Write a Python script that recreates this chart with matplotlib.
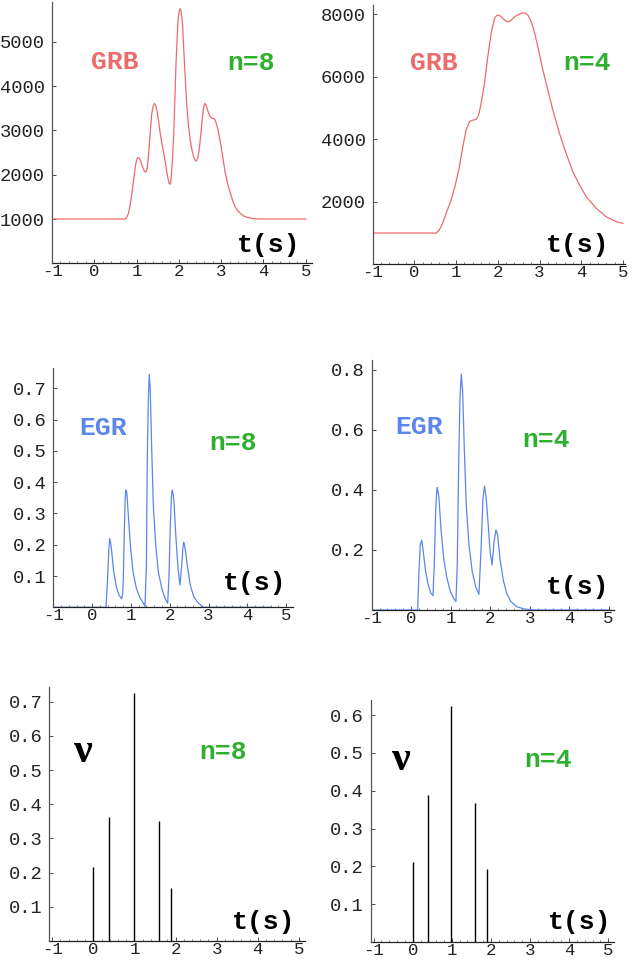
import matplotlib
matplotlib.use('Agg')
import matplotlib.pyplot as plt
from matplotlib.ticker import MultipleLocator

# ---------------- data ----------------
X_TICKS = [-1, 0, 1, 2, 3, 4, 5]
X_TICK_LABELS = ['-1', '0', '1', '2', '3', '4', '5']

# GRB light curve, n=8
grb8_t = [-1, 0.73, 0.77, 0.81, 0.85, 0.89, 0.93, 0.97, 1.00, 1.03, 1.06, 1.09, 1.14, 1.19, 1.22,
          1.25, 1.28, 1.31, 1.34, 1.36, 1.39, 1.42, 1.45, 1.48, 1.52, 1.56, 1.61, 1.66, 1.72, 1.77,
          1.80, 1.82, 1.85, 1.88, 1.91, 1.93, 1.96, 1.98, 2.01, 2.03, 2.05, 2.08, 2.10, 2.13, 2.16,
          2.19, 2.23, 2.27, 2.31, 2.35, 2.38, 2.41, 2.45, 2.48, 2.52, 2.55, 2.58, 2.61, 2.64, 2.68,
          2.72, 2.76, 2.80, 2.84, 2.88, 2.92, 2.96, 3.0, 3.05, 3.1, 3.16, 3.22, 3.28, 3.33, 3.39,
          3.45, 3.53, 3.61, 3.75, 3.92, 5.0]
grb8_v = [1000, 1000, 1040, 1130, 1320, 1580, 1880, 2180, 2330, 2390, 2380, 2330, 2180, 2070, 2060,
          2140, 2400, 2780, 3150, 3380, 3540, 3610, 3580, 3460, 3220, 2930, 2650, 2400, 2030, 1800,
          1790, 1950, 2350, 2930, 3800, 4440, 5080, 5490, 5700, 5750, 5700, 5490, 5150, 4590, 4050,
          3530, 3100, 2780, 2560, 2400, 2330, 2310, 2380, 2560, 2900, 3230, 3480, 3610, 3580, 3460,
          3350, 3290, 3270, 3270, 3180, 3040, 2850, 2630, 2330, 2030, 1780, 1580, 1400, 1280, 1190,
          1130, 1070, 1040, 1010, 1000, 1000]

# GRB light curve, n=4
grb4_t = [-1, 0.52, 0.58, 0.64, 0.70, 0.76, 0.82, 0.88, 0.98, 1.08, 1.16, 1.24, 1.32, 1.40, 1.48,
          1.54, 1.60, 1.68, 1.76, 1.84, 1.92, 1.97, 2.02, 2.07, 2.12, 2.18, 2.24, 2.30, 2.36, 2.42,
          2.48, 2.54, 2.6, 2.66, 2.72, 2.78, 2.84, 2.90, 2.96, 3.08, 3.2, 3.32, 3.48, 3.64, 3.8,
          3.96, 4.12, 4.36, 4.6, 4.84, 5.0]
grb4_v = [1000, 1000, 1070, 1200, 1400, 1630, 1840, 2050, 2530, 3120, 3760, 4290, 4560, 4610, 4630,
          4770, 5140, 5780, 6640, 7380, 7860, 7950, 7970, 7930, 7860, 7790, 7750, 7780, 7860, 7930,
          7970, 8010, 8040, 8030, 7970, 7820, 7600, 7300, 6960, 6210, 5570, 4930, 4180, 3540, 2960,
          2530, 2160, 1790, 1520, 1360, 1310]

# EGR, n=8
egr8_t = [-1, 0.358, 0.40, 0.43, 0.453, 0.48, 0.505, 0.556, 0.624, 0.693, 0.762, 0.79, 0.805, 0.83,
          0.85, 0.866, 0.885, 0.90, 0.933, 0.985, 1.054, 1.14, 1.227, 1.33, 1.363, 1.40, 1.42, 1.45,
          1.474, 1.50, 1.536, 1.577, 1.64, 1.706, 1.794, 1.879, 1.948, 1.98, 2.016, 2.045, 2.067,
          2.09, 2.11, 2.162, 2.214, 2.265, 2.31, 2.34, 2.36, 2.38, 2.41, 2.464, 2.53, 2.62, 2.72,
          2.866, 4.6]
egr8_v = [0, 0, 0.093, 0.185, 0.22, 0.205, 0.178, 0.114, 0.066, 0.039, 0.027, 0.045, 0.093, 0.242,
          0.34, 0.375, 0.372, 0.359, 0.295, 0.199, 0.114, 0.061, 0.032, 0.011, 0.003, 0.135, 0.455,
          0.668, 0.745, 0.69, 0.508, 0.327, 0.199, 0.114, 0.061, 0.029, 0.013, 0.093, 0.263, 0.355,
          0.375, 0.36, 0.338, 0.22, 0.125, 0.071, 0.135, 0.19, 0.208, 0.2, 0.178, 0.125, 0.071,
          0.034, 0.016, 0, 0]

# EGR, n=4
egr4_t = [-1, 0.165, 0.197, 0.23, 0.266, 0.307, 0.367, 0.433, 0.50, 0.552, 0.585, 0.62, 0.645, 0.66,
          0.68, 0.704, 0.754, 0.823, 0.906, 0.99, 1.076, 1.134, 1.167, 1.203, 1.236, 1.27, 1.304,
          1.345, 1.395, 1.464, 1.547, 1.633, 1.716, 1.767, 1.818, 1.86, 1.9, 1.952, 2.0, 2.05, 2.10,
          2.147, 2.19, 2.248, 2.332, 2.418, 2.527, 2.67, 2.88, 3.13, 5.0]
egr4_v = [0, 0, 0.128, 0.217, 0.233, 0.194, 0.128, 0.083, 0.056, 0.048, 0.15, 0.328, 0.39, 0.408,
          0.395, 0.372, 0.272, 0.172, 0.106, 0.063, 0.039, 0.028, 0.15, 0.483, 0.706, 0.786, 0.728,
          0.539, 0.35, 0.217, 0.128, 0.078, 0.052, 0.194, 0.372, 0.413, 0.372, 0.283, 0.194, 0.15,
          0.228, 0.267, 0.25, 0.172, 0.1, 0.056, 0.028, 0.011, 0.003, 0, 0]

# neutrino spikes
nu8_t = [0.0, 0.39, 1.0, 1.6, 1.9]
nu8_h = [0.216, 0.362, 0.727, 0.35, 0.155]
nu4_t = [0.0, 0.39, 0.98, 1.59, 1.89]
nu4_h = [0.212, 0.389, 0.623, 0.367, 0.192]

grb8_yticks = [1000, 2000, 3000, 4000, 5000]
grb4_yticks = [2000, 4000, 6000, 8000]
egr8_yticks = [0.1, 0.2, 0.3, 0.4, 0.5, 0.6, 0.7]
egr4_yticks = [0.2, 0.4, 0.6, 0.8]
nu8_yticks = [0.1, 0.2, 0.3, 0.4, 0.5, 0.6, 0.7]
nu4_yticks = [0.1, 0.2, 0.3, 0.4, 0.5, 0.6]

# ---------------- styling ----------------
W, H = 632, 961
fig = plt.figure(figsize=(W / 100, H / 100), dpi=100)
fig.patch.set_facecolor('white')

RED = '#EC6B6B'
BLUE = '#5B86EE'
GREEN = '#2EAF2E'
MONO = 'Liberation Mono'
TICKFS = 13.5
XTICKFS = 12.5
LABFS = 19


def make_axes(l, r, t, b, xlim, ylim, yticks, yfmt):
    ax = fig.add_axes([l / W, 1 - b / H, (r - l) / W, (b - t) / H])
    ax.set_xlim(*xlim)
    ax.set_ylim(*ylim)
    ax.patch.set_alpha(0)
    for s in ['top', 'right']:
        ax.spines[s].set_visible(False)
    ax.spines['left'].set_color('#555555')
    ax.spines['bottom'].set_color('#222222')
    ax.spines['left'].set_linewidth(0.9)
    ax.spines['bottom'].set_linewidth(0.9)
    ax.spines['left'].set_zorder(4)
    ax.spines['bottom'].set_zorder(2.5)
    ax.set_xticks(X_TICKS)
    ax.set_xticklabels(X_TICK_LABELS)
    ax.xaxis.set_minor_locator(MultipleLocator(0.2))
    ax.set_yticks(yticks)
    ax.set_yticklabels([yfmt.format(v) for v in yticks])
    ax.tick_params(axis='both', which='major', direction='in', length=3, width=0.6,
                   colors='#333333')
    ax.tick_params(axis='x', labelsize=XTICKFS, pad=0.5)
    ax.tick_params(axis='y', labelsize=TICKFS, pad=5)
    ax.tick_params(axis='both', which='minor', direction='in', length=1.5, width=0.5,
                   colors='#555555')
    for lab in ax.get_xticklabels() + ax.get_yticklabels():
        lab.set_fontfamily(MONO)
        lab.set_color('#222222')
    return ax


def ptext(x, y, s, color, size=LABFS, family=MONO, weight='bold'):
    fig.text(x / W, 1 - y / H, s, color=color, fontsize=size, family=family,
             weight=weight, ha='center', va='center')


# Panel 1: GRB n=8
ax1 = make_axes(52, 312, 2, 263.3, (-1, 5.15), (0, 5900), grb8_yticks, '{:d}')
ax1.plot(grb8_t, grb8_v, color=RED, lw=0.9, zorder=3)
ptext(115, 62, 'GRB', RED)
ptext(251, 63, 'n=8', GREEN)
ptext(269, 245, 't(s)', 'black')

# Panel 2: GRB n=4
ax2 = make_axes(372.7, 625, 5, 264.3, (-1, 5.05), (0, 8290), grb4_yticks, '{:d}')
ax2.plot(grb4_t, grb4_v, color=RED, lw=0.9, zorder=3)
ptext(434, 63, 'GRB', RED)
ptext(587, 63, 'n=4', GREEN)
ptext(578, 245, 't(s)', 'black')

# Panel 3: EGR n=8
ax3 = make_axes(53.3, 292.7, 368.3, 607.3, (-1, 5.17), (0, 0.764), egr8_yticks, '{:.1f}')
ax3.plot(egr8_t, egr8_v, color=BLUE, lw=0.9, zorder=2)
ptext(103, 428, 'EGR', BLUE)
ptext(233, 443, 'n=8', GREEN)
ptext(255, 583, 't(s)', 'black')

# Panel 4: EGR n=4
ax4 = make_axes(371.7, 613.7, 360, 610, (-1, 5.13), (0, 0.833), egr4_yticks, '{:.1f}')
ax4.plot(egr4_t, egr4_v, color=BLUE, lw=0.9, zorder=3)
ptext(419, 427, 'EGR', BLUE)
ptext(546, 440, 'n=4', GREEN)
ptext(578, 587, 't(s)', 'black')

# Panel 5: neutrinos n=8
ax5 = make_axes(49.3, 305, 686.7, 941, (-1.07, 5.15), (0, 0.744), nu8_yticks, '{:.1f}')
ax5.vlines(nu8_t, 0, nu8_h, color='black', lw=1.0, zorder=3)
ptext(83, 752, 'ν', 'black', size=30, family='Liberation Serif')
ptext(223, 752, 'n=8', GREEN)
ptext(264, 922, 't(s)', 'black')

# Panel 6: neutrinos n=4
ax6 = make_axes(371, 613.7, 700, 942, (-1.066, 5.14), (0, 0.64), nu4_yticks, '{:.1f}')
ax6.vlines(nu4_t, 0, nu4_h, color='black', lw=1.0, zorder=3)
ptext(401, 760, 'ν', 'black', size=30, family='Liberation Serif')
ptext(548, 760, 'n=4', GREEN)
ptext(580, 922, 't(s)', 'black')

fig.savefig('out.png', dpi=100, facecolor='white')
